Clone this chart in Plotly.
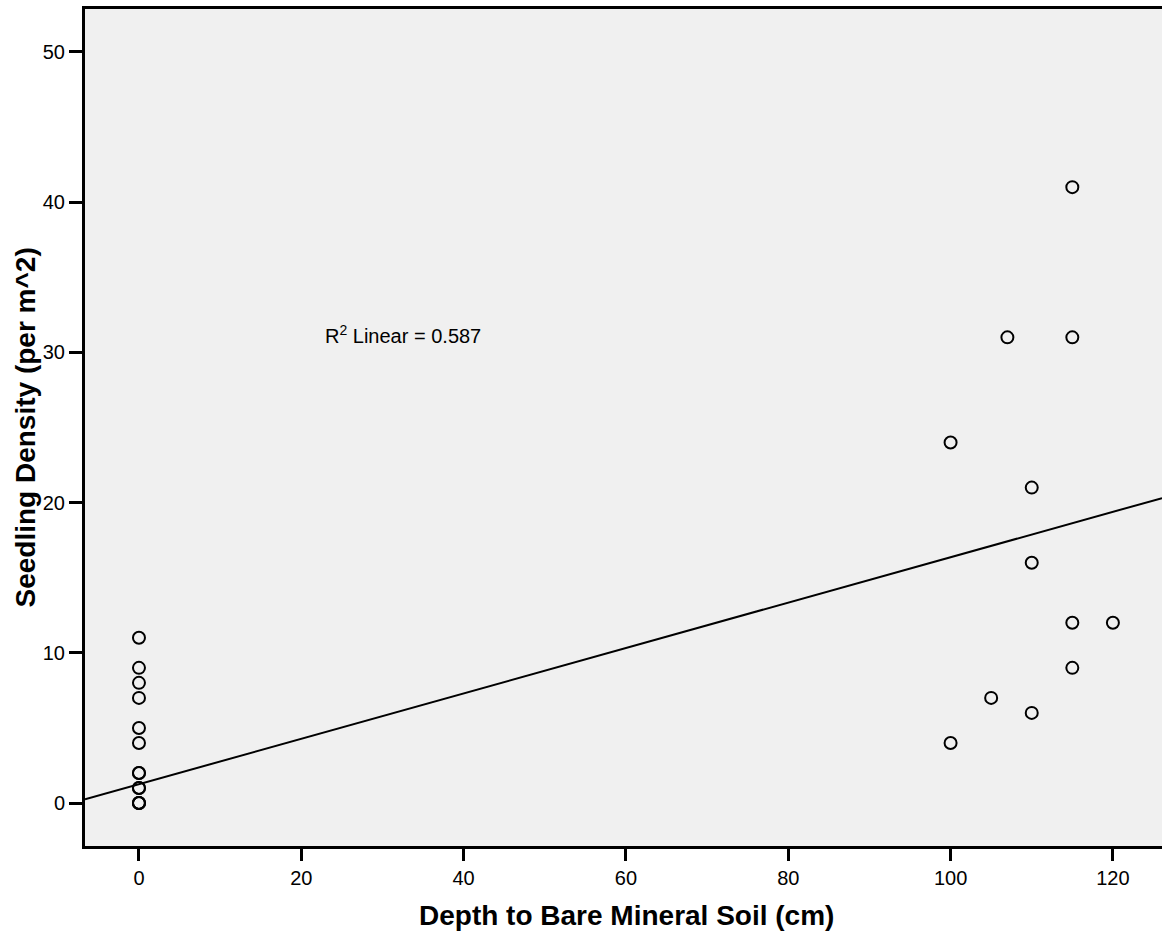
import plotly.graph_objects as go

# Data
depth_cm = [0, 0, 0, 0, 0, 0, 0, 0, 0, 0, 0, 0, 0,
            115, 107, 115, 100, 110, 110, 115, 120, 115, 105, 110, 100]
seedling_density = [11, 9, 8, 7, 5, 4, 2, 2, 1, 1, 0, 0, 0,
                    41, 31, 31, 24, 21, 16, 12, 12, 9, 7, 6, 4]

# Linear fit line endpoints
fit_x = [-6.65, 126.05]
fit_y = [0.25, 20.3]
r2_label = "R<sup>2</sup> Linear = 0.587"

x_ticks = [0, 20, 40, 60, 80, 100, 120]
y_ticks = [0, 10, 20, 30, 40, 50]

FONT = "Liberation Sans, Arial, sans-serif"

fig = go.Figure()
fig.add_trace(go.Scatter(
    x=fit_x, y=fit_y, mode="lines",
    line=dict(color="black", width=2),
    hoverinfo="skip", showlegend=False,
))
fig.add_trace(go.Scatter(
    x=depth_cm, y=seedling_density, mode="markers",
    marker=dict(symbol="circle-open", size=12, color="black",
                line=dict(color="black", width=2)),
    showlegend=False,
))

fig.add_annotation(
    x=22.7, y=31.2, xref="x", yref="y", text=r2_label,
    showarrow=False, xanchor="left", yanchor="middle",
    font=dict(family=FONT, size=20, color="black"),
)
fig.add_annotation(
    x=(626 - 85) / 1077, y=(846 - 915) / 837, xref="paper", yref="paper",
    text="<b>Depth to Bare Mineral Soil (cm)</b>", showarrow=False,
    xanchor="center", yanchor="middle",
    font=dict(family=FONT, size=28, color="black"),
)
fig.add_annotation(
    x=(25 - 85) / 1077, y=0.5, xref="paper", yref="paper",
    text="<b>Seedling Density (per m^2)</b>", showarrow=False, textangle=-90,
    xanchor="center", yanchor="middle",
    font=dict(family=FONT, size=28, color="black"),
)

fig.update_layout(
    width=1162, height=941,
    margin=dict(l=85, r=0, t=9, b=95),
    paper_bgcolor="white",
    plot_bgcolor="#F0F0F0",
    font=dict(family=FONT, size=20, color="black"),
    showlegend=False,
    xaxis=dict(
        range=[-6.65, 126.05], tickvals=x_ticks, ticktext=[str(v) for v in x_ticks],
        showgrid=False, zeroline=False,
        showline=True, linecolor="black", linewidth=3, mirror=True,
        ticks="outside", ticklen=12, tickwidth=3, tickcolor="black",
        tickfont=dict(family=FONT, size=20, color="black"),
    ),
    yaxis=dict(
        range=[-2.86, 52.86], tickvals=y_ticks, ticktext=[str(v) for v in y_ticks],
        showgrid=False, zeroline=False,
        showline=True, linecolor="black", linewidth=3, mirror=False,
        ticks="outside", ticklen=13, tickwidth=3, tickcolor="black",
        tickfont=dict(family=FONT, size=20, color="black"),
    ),
)

fig.write_html("out.html")
